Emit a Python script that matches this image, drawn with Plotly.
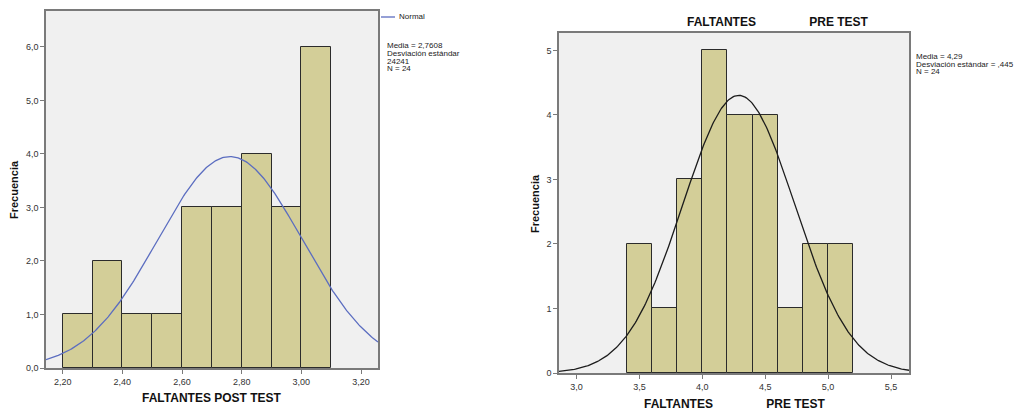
import numpy as np
import plotly.graph_objects as go

# ---------------- data ----------------
post_bin_left = [2.2, 2.3, 2.4, 2.5, 2.6, 2.7, 2.8, 2.9, 3.0]
post_counts = [1, 2, 1, 1, 3, 3, 4, 3, 6]
post_bin_width = 0.1
post_mean = 2.7608
post_sd = 0.24241
post_n = 24

pre_bin_left = [3.4, 3.6, 3.8, 4.0, 4.2, 4.4, 4.6, 4.8, 5.0]
pre_counts = [2, 1, 3, 5, 4, 4, 1, 2, 2]
pre_bin_width = 0.2
pre_mean = 4.29
pre_sd = 0.445
pre_n = 24

post_xticks = [2.2, 2.4, 2.6, 2.8, 3.0, 3.2]
post_xticklabels = ["2,20", "2,40", "2,60", "2,80", "3,00", "3,20"]
post_yticks = [0, 1, 2, 3, 4, 5, 6]
post_yticklabels = ["0,0", "1,0", "2,0", "3,0", "4,0", "5,0", "6,0"]

pre_xticks = [3.0, 3.5, 4.0, 4.5, 5.0, 5.5]
pre_xticklabels = ["3,0", "3,5", "4,0", "4,5", "5,0", "5,5"]
pre_yticks = [0, 1, 2, 3, 4, 5]
pre_yticklabels = ["0", "1", "2", "3", "4", "5"]

post_xrange = [2.144, 3.257]
post_yrange = [0, 6.67]
pre_xrange = [2.861, 5.643]
pre_yrange = [0, 5.27]

left_info = ["Media = 2,7608", "Desviación estándar", "24241", "N = 24"]
right_info = ["Media = 4,29", "Desviación estándar = ,445", "N = 24"]

W, H = 1029, 412
FONT = "Arial, Liberation Sans, sans-serif"
BAR_FILL = "#d3ce98"
BAR_LINE = "#2b2b2b"
FRAME = "#7a7a7a"
PLOT_BG = "#f0f0f0"


def normal_curve(rng, mean, sd, n, bw):
    xs = np.linspace(rng[0], rng[1], 300)
    ys = n * bw / (sd * np.sqrt(2 * np.pi)) * np.exp(-0.5 * ((xs - mean) / sd) ** 2)
    return xs, ys


fig = go.Figure()

# left histogram
fig.add_trace(go.Bar(
    x=[b + post_bin_width / 2 for b in post_bin_left], y=post_counts,
    width=post_bin_width, marker=dict(color=BAR_FILL, line=dict(color=BAR_LINE, width=1)),
    xaxis="x", yaxis="y", showlegend=False, hoverinfo="skip"))
cx, cy = normal_curve(post_xrange, post_mean, post_sd, post_n, post_bin_width)
fig.add_trace(go.Scatter(x=cx, y=cy, mode="lines", line=dict(color="#5b6dc0", width=1.3),
                         xaxis="x", yaxis="y", showlegend=False, hoverinfo="skip"))

# right histogram
fig.add_trace(go.Bar(
    x=[b + pre_bin_width / 2 for b in pre_bin_left], y=pre_counts,
    width=pre_bin_width, marker=dict(color=BAR_FILL, line=dict(color=BAR_LINE, width=1)),
    xaxis="x2", yaxis="y2", showlegend=False, hoverinfo="skip"))
cx2, cy2 = normal_curve(pre_xrange, pre_mean, pre_sd, pre_n, pre_bin_width)
fig.add_trace(go.Scatter(x=cx2, y=cy2, mode="lines", line=dict(color="#1c1c1c", width=1.3),
                         xaxis="x2", yaxis="y2", showlegend=False, hoverinfo="skip"))


def px2x(px):
    return px / W


def px2y(py):
    return 1 - py / H


axis_common = dict(showgrid=False, zeroline=False, showline=True, mirror=True,
                   linecolor=FRAME, linewidth=1.5, ticks="outside", ticklen=4,
                   tickcolor=FRAME, tickwidth=1.2, automargin=False,
                   tickfont=dict(family=FONT, size=9, color="#333333"), fixedrange=True)

fig.update_layout(
    width=W, height=H,
    margin=dict(l=0, r=0, t=0, b=0, autoexpand=False),
    paper_bgcolor="white",
    plot_bgcolor=PLOT_BG,
    bargap=0,
    xaxis=dict(domain=[px2x(46), px2x(378)], range=post_xrange, anchor="y",
               tickvals=post_xticks, ticktext=post_xticklabels, **axis_common),
    yaxis=dict(domain=[px2y(368), px2y(11)], range=post_yrange, anchor="x",
               tickvals=post_yticks, ticktext=post_yticklabels, **axis_common),
    xaxis2=dict(domain=[px2x(559), px2x(909)], range=pre_xrange, anchor="y2",
                tickvals=pre_xticks, ticktext=pre_xticklabels, **axis_common),
    yaxis2=dict(domain=[px2y(373), px2y(33)], range=pre_yrange, anchor="x2",
                tickvals=pre_yticks, ticktext=pre_yticklabels, **axis_common),
)

ann = []
title_font = dict(family=FONT, size=12, color="#111111")
nb = "\u00a0"
ann.append(dict(text="<b>FALTANTES POST TEST</b>", x=px2x(212), y=px2y(398),
                xref="paper", yref="paper", showarrow=False, font=title_font,
                xanchor="center", yanchor="middle"))
ann.append(dict(text="<b>FALTANTES" + nb * 16 + "PRE TEST</b>", x=px2x(735), y=px2y(404),
                xref="paper", yref="paper", showarrow=False, font=title_font,
                xanchor="center", yanchor="middle"))
ann.append(dict(text="<b>FALTANTES" + nb * 16 + "PRE TEST</b>", x=px2x(778), y=px2y(22),
                xref="paper", yref="paper", showarrow=False, font=title_font,
                xanchor="center", yanchor="middle"))
ann.append(dict(text="<b>Frecuencia</b>", x=px2x(14), y=px2y(190), textangle=-90,
                xref="paper", yref="paper", showarrow=False,
                font=dict(family=FONT, size=11, color="#111111"),
                xanchor="center", yanchor="middle"))
ann.append(dict(text="<b>Frecuencia</b>", x=px2x(535), y=px2y(204), textangle=-90,
                xref="paper", yref="paper", showarrow=False,
                font=dict(family=FONT, size=11, color="#111111"),
                xanchor="center", yanchor="middle"))

small = dict(family=FONT, size=8, color="#222222")
ann.append(dict(text="Normal", x=px2x(397), y=px2y(17), xref="paper", yref="paper",
                showarrow=False, font=small, xanchor="left", yanchor="middle"))
for i, t in enumerate(left_info):
    ann.append(dict(text=t, x=px2x(385), y=px2y(46 + 7.6 * i), xref="paper", yref="paper",
                    showarrow=False, font=small, xanchor="left", yanchor="middle"))
for i, t in enumerate(right_info):
    ann.append(dict(text=t, x=px2x(914), y=px2y(56.5 + 7.6 * i), xref="paper", yref="paper",
                    showarrow=False, font=small, xanchor="left", yanchor="middle"))

fig.update_layout(annotations=ann)

# legend glyph for the "Normal" line
fig.add_shape(type="line", xref="paper", yref="paper",
              x0=px2x(381), x1=px2x(395), y0=px2y(17), y1=px2y(17),
              line=dict(color="#5b6dc0", width=1.3))

fig.write_html("out.html", config={"displayModeBar": False},
               post_script="document.body.style.margin='0px';document.body.style.overflow='hidden';")
